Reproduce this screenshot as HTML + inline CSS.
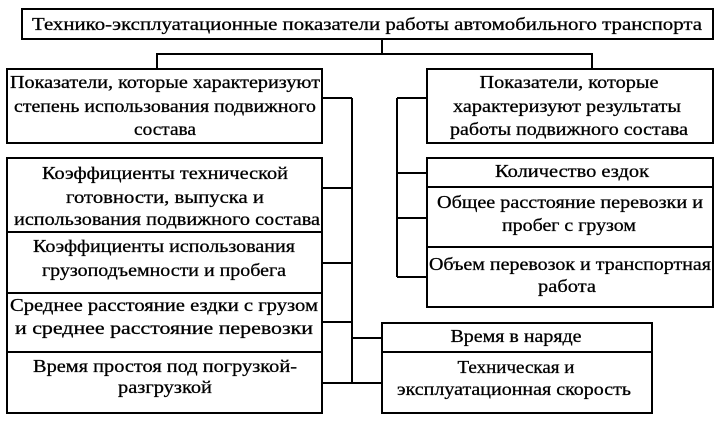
<!DOCTYPE html>
<html><head><meta charset="utf-8"><style>
html,body{margin:0;padding:0;background:#fff;}
svg{display:block;}
svg text{font-family:'Liberation Serif','Times New Roman',Times,serif;font-size:18px;fill:#000;stroke:#000;stroke-width:0.3;text-anchor:middle;}
</style></head><body>
<svg width="722" height="424" viewBox="0 0 722 424" xmlns="http://www.w3.org/2000/svg" font-family="Liberation Serif, Times New Roman, serif">
<g fill="none" stroke="#000" stroke-width="2">
<rect x="22" y="9" width="691" height="30"/>
<polyline points="382,39 382,54"/>
<polyline points="157,69 157,54 592,54 592,69"/>
<rect x="7" y="69" width="315" height="74"/>
<rect x="427" y="69" width="286" height="74"/>
<rect x="7" y="158" width="315" height="255"/>
<line x1="7" y1="232" x2="322" y2="232"/>
<line x1="7" y1="293" x2="322" y2="293"/>
<line x1="7" y1="352" x2="322" y2="352"/>
<rect x="427" y="158" width="286" height="149"/>
<line x1="427" y1="187" x2="713" y2="187"/>
<line x1="427" y1="247" x2="713" y2="247"/>
<rect x="382" y="323" width="270" height="90"/>
<line x1="382" y1="352" x2="652" y2="352"/>
<line x1="352" y1="98" x2="352" y2="383"/>
<line x1="322" y1="98" x2="352" y2="98"/>
<line x1="322" y1="188" x2="352" y2="188"/>
<line x1="322" y1="263" x2="352" y2="263"/>
<line x1="322" y1="322" x2="352" y2="322"/>
<line x1="322" y1="383" x2="382" y2="383"/>
<line x1="352" y1="338" x2="382" y2="338"/>
<line x1="397" y1="98" x2="397" y2="277"/>
<line x1="397" y1="98" x2="427" y2="98"/>
<line x1="397" y1="173" x2="427" y2="173"/>
<line x1="397" y1="218" x2="427" y2="218"/>
<line x1="397" y1="277" x2="427" y2="277"/>
</g>
<g>
<text x="367" y="30" textLength="670" lengthAdjust="spacingAndGlyphs">Технико-эксплуатационные показатели работы автомобильного транспорта</text>
<text x="165" y="88" textLength="310" lengthAdjust="spacingAndGlyphs">Показатели, которые характеризуют</text>
<text x="165" y="112" textLength="302" lengthAdjust="spacingAndGlyphs">степень использования подвижного</text>
<text x="165" y="135" textLength="62" lengthAdjust="spacingAndGlyphs">состава</text>
<text x="569" y="88" textLength="179" lengthAdjust="spacingAndGlyphs">Показатели, которые</text>
<text x="567" y="112" textLength="228" lengthAdjust="spacingAndGlyphs">характеризуют результаты</text>
<text x="569" y="135" textLength="238" lengthAdjust="spacingAndGlyphs">работы подвижного состава</text>
<text x="165" y="179" textLength="246" lengthAdjust="spacingAndGlyphs">Коэффициенты технической</text>
<text x="165" y="203" textLength="198" lengthAdjust="spacingAndGlyphs">готовности, выпуска и</text>
<text x="167" y="225" textLength="306" lengthAdjust="spacingAndGlyphs">использования подвижного состава</text>
<text x="164" y="252" textLength="262" lengthAdjust="spacingAndGlyphs">Коэффициенты использования</text>
<text x="164" y="276" textLength="244" lengthAdjust="spacingAndGlyphs">грузоподъемности и пробега</text>
<text x="164" y="311" textLength="308" lengthAdjust="spacingAndGlyphs">Среднее расстояние ездки с грузом</text>
<text x="164" y="334" textLength="298" lengthAdjust="spacingAndGlyphs">и среднее расстояние перевозки</text>
<text x="165" y="372" textLength="264" lengthAdjust="spacingAndGlyphs">Время простоя под погрузкой-</text>
<text x="165" y="393" textLength="94" lengthAdjust="spacingAndGlyphs">разгрузкой</text>
<text x="572" y="177" textLength="154" lengthAdjust="spacingAndGlyphs">Количество ездок</text>
<text x="570" y="208" textLength="266" lengthAdjust="spacingAndGlyphs">Общее расстояние перевозки и</text>
<text x="569" y="231" textLength="134" lengthAdjust="spacingAndGlyphs">пробег с грузом</text>
<text x="570" y="270" textLength="282" lengthAdjust="spacingAndGlyphs">Объем перевозок и транспортная</text>
<text x="567" y="292" textLength="58" lengthAdjust="spacingAndGlyphs">работа</text>
<text x="516" y="342" textLength="131" lengthAdjust="spacingAndGlyphs">Время в наряде</text>
<text x="516" y="373" textLength="117" lengthAdjust="spacingAndGlyphs">Техническая и</text>
<text x="514" y="395" textLength="234" lengthAdjust="spacingAndGlyphs">эксплуатационная скорость</text>
</g>
</svg>
</body></html>
